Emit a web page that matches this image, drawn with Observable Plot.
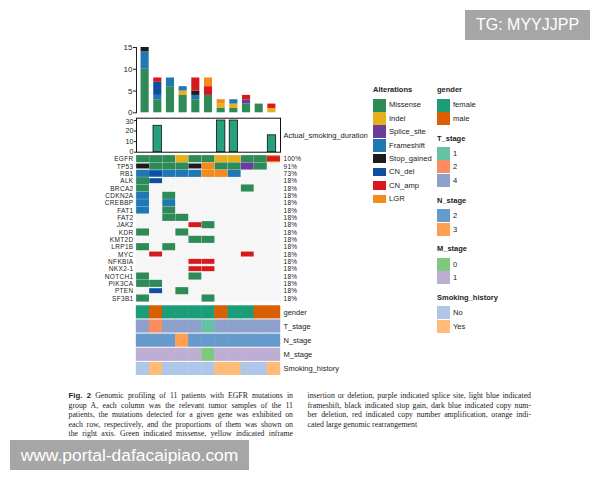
<!DOCTYPE html>
<html><head><meta charset="utf-8">
<script src="https://cdn.jsdelivr.net/npm/d3@7"></script>
<script src="https://cdn.jsdelivr.net/npm/@observablehq/plot@0.6"></script>
<style>
html,body{margin:0;padding:0;background:#fff}
#page{position:relative;width:600px;height:480px;overflow:hidden;font-family:"Liberation Sans",sans-serif;color:#222}
#page>svg,#page>div{position:absolute;left:0;top:0}
#page svg{background:transparent !important;overflow:visible}
.t{position:absolute;white-space:nowrap;line-height:1}
.cap{position:absolute;font-family:"Liberation Serif",serif;font-size:7.8px;line-height:1;color:#222;text-align:justify;text-align-last:justify}
.box{position:absolute;background:#a6a6a6;color:#fff;font-family:"Liberation Sans",sans-serif;display:flex;align-items:center;justify-content:center;white-space:nowrap}
</style></head><body><div id="page"></div>
<script>
// ---------- data ----------
const samples = ["S1","S2","S3","S4","S5","S6","S7","S8","S9","S10","S11"];
const alterations = ["Missense","Indel","Splice_site","Frameshift","Stop_gained","CN_del","CN_amp","LGR"];
const altColors = ["#2e8b57","#e5b01c","#6a3d9a","#1f78b4","#1c1c1c","#0b4f9e","#d7191c","#f28a1c"];
// burden per sample, one list per alteration
const burdenMissense   = [10,3,6,4,3,4,1,1,2,2,0];
const burdenIndel      = [0,0,0,1,0,0,1,1,0,0,1];
const burdenSplice     = [0,0,0,0,0,0,0,0,1,0,0];
const burdenFrameshift = [4,1,2,1,1,0,0,1,0,0,0];
const burdenStop       = [1,0,0,0,1,0,0,0,0,0,0];
const burdenDel        = [0,3,0,0,0,0,0,0,0,0,0];
const burdenAmp        = [0,1,0,0,3,2,0,0,1,0,1];
const burdenLGR        = [0,0,0,0,0,2,1,0,0,0,0];
const burdenLists = [burdenMissense,burdenIndel,burdenSplice,burdenFrameshift,burdenStop,burdenDel,burdenAmp,burdenLGR];

const smokingDuration = [null,25,null,null,null,null,30,30,null,null,16];

const genes = ["EGFR","TP53","RB1","ALK","BRCA2","CDKN2A","CREBBP","FAT1","FAT2","JAK2","KDR","KMT2D","LRP1B","MYC","NFKBIA","NKX2-1","NOTCH1","PIK3CA","PTEN","SF3B1"];
const genePct = ["100%","91%","73%","18%","18%","18%","18%","18%","18%","18%","18%","18%","18%","18%","18%","18%","18%","18%","18%","18%"];
const _ = null;
const mutationRows = [
 ["Missense","Missense","Missense","Indel","Missense","Missense","Indel","Indel","Missense","Missense","LGR"],
 ["Stop_gained","Missense","Missense","Missense","Stop_gained","LGR","Missense","Missense","Splice_site","Missense",_],
 ["Frameshift","Frameshift","Frameshift","Frameshift","Frameshift","LGR","LGR","Frameshift",_,_,_],
 ["Missense","CN_del",_,_,_,_,_,_,_,_,_],
 ["Missense",_,_,_,_,_,_,_,"Missense",_,_],
 ["Frameshift",_,"Missense",_,_,_,_,_,_,_,_],
 ["Frameshift",_,"Frameshift",_,_,_,_,_,_,_,_],
 ["Frameshift",_,"Missense",_,_,_,_,_,_,_,_],
 [_,_,"Missense","Missense",_,_,_,_,_,_,_],
 [_,_,_,_,"CN_amp","Missense",_,_,_,_,_],
 ["Missense",_,_,"Missense",_,_,_,_,_,_,_],
 [_,_,_,_,"Missense","Missense",_,_,_,_,_],
 ["Missense",_,"Missense",_,_,_,_,_,_,_,_],
 [_,"CN_amp",_,_,_,_,_,_,"CN_amp",_,_],
 [_,_,_,_,"CN_amp","CN_amp",_,_,_,_,_],
 [_,_,_,_,"CN_amp","CN_amp",_,_,_,_,_],
 ["Missense",_,_,_,"Missense",_,_,_,_,_,_],
 ["Missense","Missense",_,_,_,_,_,_,_,_,_],
 [_,"CN_del",_,"Missense",_,_,_,_,_,_,_],
 ["Missense",_,_,_,_,"Missense",_,_,_,_,_]
];
// second hits drawn narrower on top of the first
const overlayGene = ["RB1","EGFR"];
const overlaySample = ["S2","S11"];
const overlayType = ["CN_del","CN_amp"];

const tracks = ["gender","T_stage","N_stage","M_stage","Smoking_history"];
const gender  = ["female","male","female","female","female","female","male","female","female","male","male"];
const tStage  = ["4","2","4","4","4","1","4","4","4","4","4"];
const nStage  = ["2","2","2","3","2","2","2","2","2","2","2"];
const mStage  = ["1","1","1","1","1","0","1","1","1","1","1"];
const smoking = ["No","Yes","No","No","No","No","Yes","Yes","No","No","Yes"];
const trackLists = [gender,tStage,nStage,mStage,smoking];

const genderKeys = ["female","male"], genderColors = ["#1b9e77","#d95f02"];
const tKeys = ["1","2","4"], tColors = ["#66c2a5","#fc8d62","#8da0cb"];
const nKeys = ["2","3"], nColors = ["#6699cc","#fd9f4f"];
const mKeys = ["0","1"], mColors = ["#7fc97f","#beaed4"];
const smKeys = ["No","Yes"], smColors = ["#aec7e8","#ffbb78"];
const trackKeys = [genderKeys,tKeys,nKeys,mKeys,smKeys];
const trackColors = [genderColors,tColors,nColors,mColors,smColors];

const captionLeft = [
 "<b style='font-family:Liberation Sans'>Fig. 2</b> Genomic profiling of 11 patients with EGFR mutations in",
 "group A, each column was the relevant tumor samples of the 11",
 "patients, the mutations detected for a given gene was exhibited on",
 "each row, respectively, and the proportions of them was shown on",
 "the right axis. Green indicated missense, yellow indicated inframe"];
const captionRight = [
 "insertion or deletion, purple indicated splice site, light blue indicated",
 "frameshift, black indicated stop gain, dark blue indicated copy num-",
 "ber deletion, red indicated copy number amplification, orange indi-",
 "cated large genomic rearrangement"];

// ---------- layout helpers ----------
const page = document.getElementById("page");
const W = 600, H = 480, L = 136, R = W - 280;
const base = {width:W,height:H,marginLeft:L,marginRight:R,style:{fontFamily:"Liberation Sans",fontSize:"7.6px",color:"#222",background:"transparent"}};
const altColor = a => altColors[alterations.indexOf(a)];
const add = n => page.appendChild(n);

// ---------- burden bars ----------
const burden = burdenLists.flatMap((list,k)=>list.map((v,i)=>({sample:samples[i],alt:alterations[k],order:k,v})));
add(Plot.plot({...base,marginTop:47,marginBottom:H-112.3,
  x:{domain:samples,padding:0.36,round:false,axis:null},
  y:{domain:[0,15],ticks:[0,5,10,15],label:null},
  marks:[
    Plot.barY(burden,{x:"sample",y:"v",fill:d=>altColor(d.alt),order:null}),
    Plot.axisY({ticks:[0,5,10,15],tickSize:3,tickPadding:1,label:null,fontSize:8}),
    Plot.frame({anchor:"left"})
  ]}));

// ---------- smoking duration ----------
add(Plot.plot({...base,marginTop:117.7,marginBottom:H-151.7,
  x:{domain:samples,padding:0.34,round:false,axis:null},
  y:{domain:[0,32.2],label:null},
  marks:[
    Plot.barY(samples.map((s,i)=>({s,v:smokingDuration[i]})).filter(d=>d.v!=null),{x:"s",y:"v",fill:"#27a07d",stroke:"#111",strokeWidth:0.8}),
    Plot.axisY({ticks:[0,10,20,30],tickSize:2,tickFormat:()=>"",label:null}),
    Plot.axisY({ticks:[10,20],tickSize:0,tickPadding:3,label:null,fontSize:7.2}),
    Plot.axisY({ticks:[30],tickSize:0,tickPadding:3,label:null,fontSize:7.2,dy:0.9}),
    Plot.axisY({ticks:[0],tickSize:0,tickPadding:3,label:null,fontSize:7.2,dy:-0.9}),
    Plot.frame({stroke:"#111",strokeWidth:1}),
    Plot.text(["Actual_smoking_duration"],{frameAnchor:"right",textAnchor:"start",dx:3,fontSize:7.5})
  ]}));

// ---------- oncoprint ----------
const cells = mutationRows.flatMap((row,g)=>row.map((a,i)=>({gene:genes[g],sample:samples[i],alt:a})));
const narrowTypes = ["Stop_gained","CN_del","CN_amp"];
const overlays = overlayGene.map((g,i)=>({gene:g,sample:overlaySample[i],alt:overlayType[i]}));
add(Plot.plot({...base,marginTop:155,marginBottom:H-301.7,
  style:{...base.style,letterSpacing:"0.32px"},
  x:{domain:samples,padding:0,round:false,axis:null},
  y:{domain:genes,padding:0,round:false,label:null},
  marks:[
    Plot.cell(cells,{x:"sample",y:"gene",fill:"#f6f6f6",inset:0}),
    Plot.cell(cells.filter(d=>d.alt&&!narrowTypes.includes(d.alt)),{x:"sample",y:"gene",fill:d=>altColor(d.alt),inset:0.12}),
    Plot.cell(cells.filter(d=>narrowTypes.includes(d.alt)),{x:"sample",y:"gene",fill:d=>altColor(d.alt),insetTop:1.2,insetBottom:1.2,insetLeft:.12,insetRight:.12}),
    Plot.cell(overlays,{x:"sample",y:"gene",fill:d=>altColor(d.alt),insetTop:1.2,insetBottom:1.2,insetLeft:.12,insetRight:.12}),
    Plot.axisY({tickSize:0,tickPadding:3,label:null,fontSize:6.5}),
    Plot.axisY({anchor:"right",tickSize:0,tickPadding:3,label:null,fontSize:6.5,tickFormat:g=>genePct[genes.indexOf(g)]})
  ]}));

// ---------- annotation tracks ----------
const annot = trackLists.flatMap((list,t)=>list.map((v,i)=>({track:tracks[t],sample:samples[i],fill:trackColors[t][trackKeys[t].indexOf(v)]})));
add(Plot.plot({...base,marginTop:304.3,marginBottom:H-376,
  x:{domain:samples,padding:0,round:false,axis:null},
  y:{domain:tracks,padding:0.07,round:false,label:null,axis:null},
  marks:[
    Plot.cell(annot,{x:"sample",y:"track",fill:"fill",insetLeft:-0.2,insetRight:-0.2}),
    Plot.axisY({anchor:"right",tickSize:0,tickPadding:3,label:null,fontSize:7.5})
  ]}));

// ---------- legends ----------
function text(x,y,str,opt={}){const d=document.createElement("div");d.className="t";d.textContent=str;
  d.style.left=x+"px";d.style.top=(y-(opt.size||7.6)/2)+"px";d.style.fontSize=(opt.size||7.6)+"px";
  if(opt.bold)d.style.fontWeight="bold";page.appendChild(d);}
function swatch(x,y,w,h,c){const d=document.createElement("div");Object.assign(d.style,{left:x+"px",top:y+"px",width:w+"px",height:h+"px",background:c,position:"absolute"});page.appendChild(d);}
function legend(x,titleY,top,title,keys,colors,narrow=[]){
  text(x,titleY,title,{bold:true,size:7.5});
  keys.forEach((k,i)=>{const y=top+i*13.4;const n=narrow.includes(k);
    swatch(x,y+(n?2.5:0.3),13,n?8.4:13,colors[i]);text(x+16,y+6.9,k);});
}
legend(373,90,98.3,"Alterations",alterations,altColors,["Stop_gained","CN_del","CN_amp","LGR"]);
legend(437,90,98.3,"gender",genderKeys,genderColors);
legend(437,139,146.7,"T_stage",tKeys,tColors);
legend(437,200.7,209,"N_stage",nKeys,nColors);
legend(437,249,257.7,"M_stage",mKeys,mColors);
legend(437,298,306,"Smoking_history",smKeys,smColors);

// ---------- caption ----------
function caption(lines,x,w){lines.forEach((l,i)=>{const d=document.createElement("div");d.className="cap";d.innerHTML=l;
  d.style.left=x+"px";d.style.top=(392.2+i*9.5)+"px";d.style.width=w+"px";
  if(l.startsWith("cated"))d.style.textAlignLast="left";page.appendChild(d);});}
caption(captionLeft,68.5,224.5);
caption(captionRight,307.5,223.5);

// ---------- watermarks ----------
function box(x,y,w,h,str,size){const d=document.createElement("div");d.className="box";d.textContent=str;
  Object.assign(d.style,{left:x+"px",top:y+"px",width:w+"px",height:h+"px",fontSize:size+"px"});page.appendChild(d);}
box(465,10,125,30,"TG: MYYJJPP",16);
box(10,440,239,30,"www.portal-dafacaipiao.com",17.4);
</script></body></html>
